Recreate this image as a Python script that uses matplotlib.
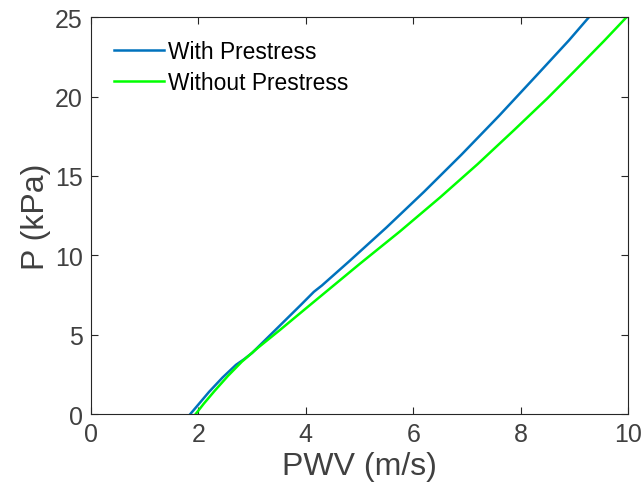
import matplotlib
matplotlib.use("Agg")
import matplotlib.pyplot as plt

# Data
pwv_with = [1.85, 2.0, 2.2, 2.45, 2.7, 2.85, 3.0, 3.3, 3.6, 3.9, 4.15, 4.3, 4.8, 5.5, 6.2, 6.9, 7.6, 8.3, 8.9, 9.27]
p_with = [0.0, 0.6, 1.4, 2.3, 3.1, 3.45, 3.85, 4.85, 5.85, 6.85, 7.7, 8.1, 9.6, 11.75, 14.0, 16.35, 18.8, 21.35, 23.55, 25.0]

pwv_without = [1.95, 2.1, 2.3, 2.55, 2.81, 3.1, 3.52, 4.0, 4.5, 5.0, 5.75, 6.5, 7.2, 7.88, 8.5, 9.0, 9.55, 9.97]
p_without = [0.0, 0.65, 1.45, 2.4, 3.3, 4.15, 5.3, 6.65, 8.05, 9.45, 11.5, 13.65, 15.75, 17.9, 19.9, 21.6, 23.5, 25.0]

x_ticks = [0, 2, 4, 6, 8, 10]
y_ticks = [0, 5, 10, 15, 20, 25]

plt.rcParams['font.family'] = ['Liberation Sans', 'DejaVu Sans']

fig = plt.figure(figsize=(6.44, 5.02), dpi=100)
ax = fig.add_axes([0.1413, 0.1733, 0.9752 - 0.1413, 0.9635 - 0.1733])

ax.plot(pwv_with, p_with, color='#0072BD', lw=1.8, label='With Prestress')
ax.plot(pwv_without, p_without, color='#00FF00', lw=1.8, label='Without Prestress')

ax.set_xlim(0, 10)
ax.set_ylim(0, 25)
ax.set_xticks(x_ticks)
ax.set_yticks(y_ticks)
ax.tick_params(direction='in', top=True, right=True, length=5, width=0.8,
               labelsize=18, colors='#262626', labelcolor='#404040', pad=6)
for s in ax.spines.values():
    s.set_color('#262626')
    s.set_linewidth(0.8)

ax.set_xlabel('PWV (m/s)', fontsize=23, color='#404040', labelpad=3)
ax.set_ylabel('P (kPa)', fontsize=23, color='#404040', labelpad=3)

ax.legend(loc='upper left', frameon=False, fontsize=16.4, handlelength=2.2,
          handletextpad=0.2, borderaxespad=0.5, borderpad=0.5, labelspacing=0.35)

fig.savefig('out.png', dpi=100)
